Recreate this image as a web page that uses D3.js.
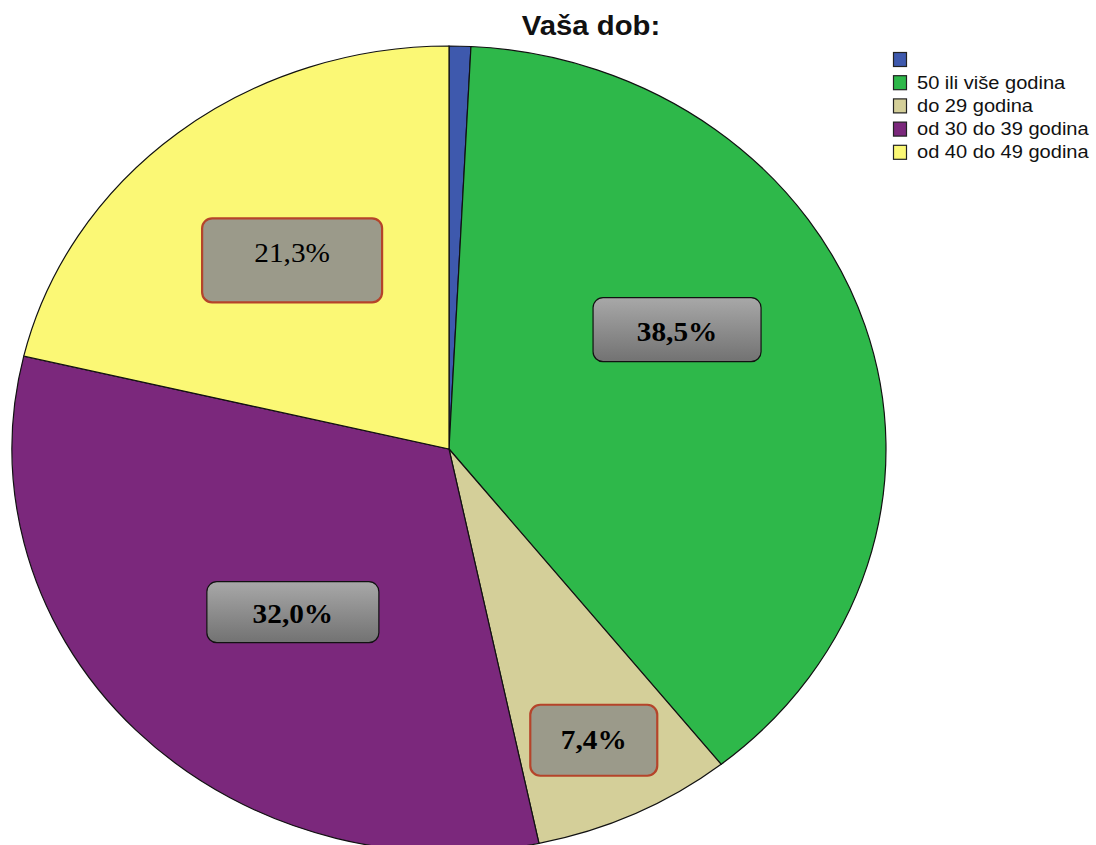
<!DOCTYPE html>
<html>
<head>
<meta charset="utf-8">
<script src="https://cdn.jsdelivr.net/npm/d3@7"></script>
<style>
  body { margin: 0; background: #fff; }
</style>
</head>
<body>
<div id="pita"></div>
<script>
// podaci
const categories = ['', '50 ili više godina', 'do 29 godina', 'od 30 do 39 godina', 'od 40 do 49 godina'];
const values = [0.8, 38.5, 7.4, 32.0, 21.3];
const labels = ['', '38,5%', '7,4%', '32,0%', '21,3%'];
const colors = ['#3e59ad', '#2eb84a', '#d4cf99', '#7b287c', '#fbf875'];

const width = 1096, height = 845;
const cx = 449, cy = 449, rx = 437, ry = 403;
const stretch = rx / ry;   // slika je malo razvučena vodoravno

const svg = d3.select('#pita')
  .append('svg')
  .attr('width', width)
  .attr('height', height);

const defs = svg.append('defs');
const grad = defs.append('linearGradient')
  .attr('id', 'sivo')
  .attr('x1', 0).attr('y1', 0).attr('x2', 0).attr('y2', 1);
grad.append('stop').attr('offset', '0%').attr('stop-color', '#a8a8a8');
grad.append('stop').attr('offset', '100%').attr('stop-color', '#727272');

const pie = d3.pie().sort(null).value(d => d);
const arcs = pie(values);
const arc = d3.arc().innerRadius(0).outerRadius(ry);

const g = svg.append('g')
  .attr('transform', `translate(${cx},${cy}) scale(${stretch},1)`);

g.selectAll('path.slice')
  .data(arcs)
  .enter()
  .append('path')
  .attr('class', 'slice')
  .attr('d', arc)
  .attr('fill', (d, i) => colors[i])
  .attr('stroke', '#111')
  .attr('stroke-width', 1.2)
  .attr('vector-effect', 'non-scaling-stroke');

// oznake - stil kao u SPSS-u
const labelStyle = [
  null,
  { r: 0.60, shift: -0.205, w: 168, h: 64, fill: 'url(#sivo)', stroke: '#111', sw: 1.2, bold: true, dy: 11 },
  { r: 0.795, shift: 0.01, w: 127, h: 71, fill: '#9b9a8a', stroke: '#b5442a', sw: 2.2, bold: true, dy: 9 },
  { r: 0.54, shift: -0.075, w: 172, h: 61, fill: 'url(#sivo)', stroke: '#111', sw: 1.2, bold: true, dy: 11 },
  { r: 0.59, shift: 0.015, w: 180, h: 84, fill: '#9b9a8a', stroke: '#b5442a', sw: 2.2, bold: false, dy: 2 }
];

const lab = svg.append('g').attr('class', 'labels');
arcs.forEach((d, i) => {
  const s = labelStyle[i];
  if (!s) return;
  const a = (d.startAngle + d.endAngle) / 2 + s.shift;
  const x = cx + rx * s.r * Math.sin(a);
  const y = cy - ry * s.r * Math.cos(a);
  const lg = lab.append('g').attr('transform', `translate(${x},${y})`);
  lg.append('rect')
    .attr('x', -s.w / 2).attr('y', -s.h / 2)
    .attr('width', s.w).attr('height', s.h)
    .attr('rx', 10).attr('ry', 10)
    .attr('fill', s.fill)
    .attr('stroke', s.stroke)
    .attr('stroke-width', s.sw);
  lg.append('text')
    .attr('transform', `translate(0,${s.dy}) scale(${stretch},1)`)
    .attr('text-anchor', 'middle')
    .style('font-family', '"Liberation Serif", "Times New Roman", serif')
    .style('font-size', '27px')
    .style('font-weight', s.bold ? 'bold' : 'normal')
    .attr('fill', '#000')
    .text(labels[i]);
});

// naslov
svg.append('text')
  .attr('transform', `translate(591,35) scale(${stretch},1)`)
  .attr('text-anchor', 'middle')
  .style('font-family', '"Liberation Sans", Arial, sans-serif')
  .style('font-size', '27px')
  .style('font-weight', 'bold')
  .attr('fill', '#111')
  .text('Vaša dob:');

// legenda
const legend = svg.append('g').attr('transform', 'translate(893,52)');
const row = legend.selectAll('g.row')
  .data(categories)
  .enter()
  .append('g')
  .attr('class', 'row')
  .attr('transform', (d, i) => `translate(0,${i * 23.2})`);
row.append('rect')
  .attr('x', 0.5).attr('y', 0.5)
  .attr('width', 13).attr('height', 14)
  .attr('fill', (d, i) => colors[i])
  .attr('stroke', '#222')
  .attr('stroke-width', 1.2);
row.append('text')
  .attr('transform', `translate(24,13.5) scale(${stretch},1)`)
  .style('font-family', '"Liberation Sans", Arial, sans-serif')
  .style('font-size', '18.5px')
  .attr('fill', '#111')
  .text(d => d);
</script>
</body>
</html>
